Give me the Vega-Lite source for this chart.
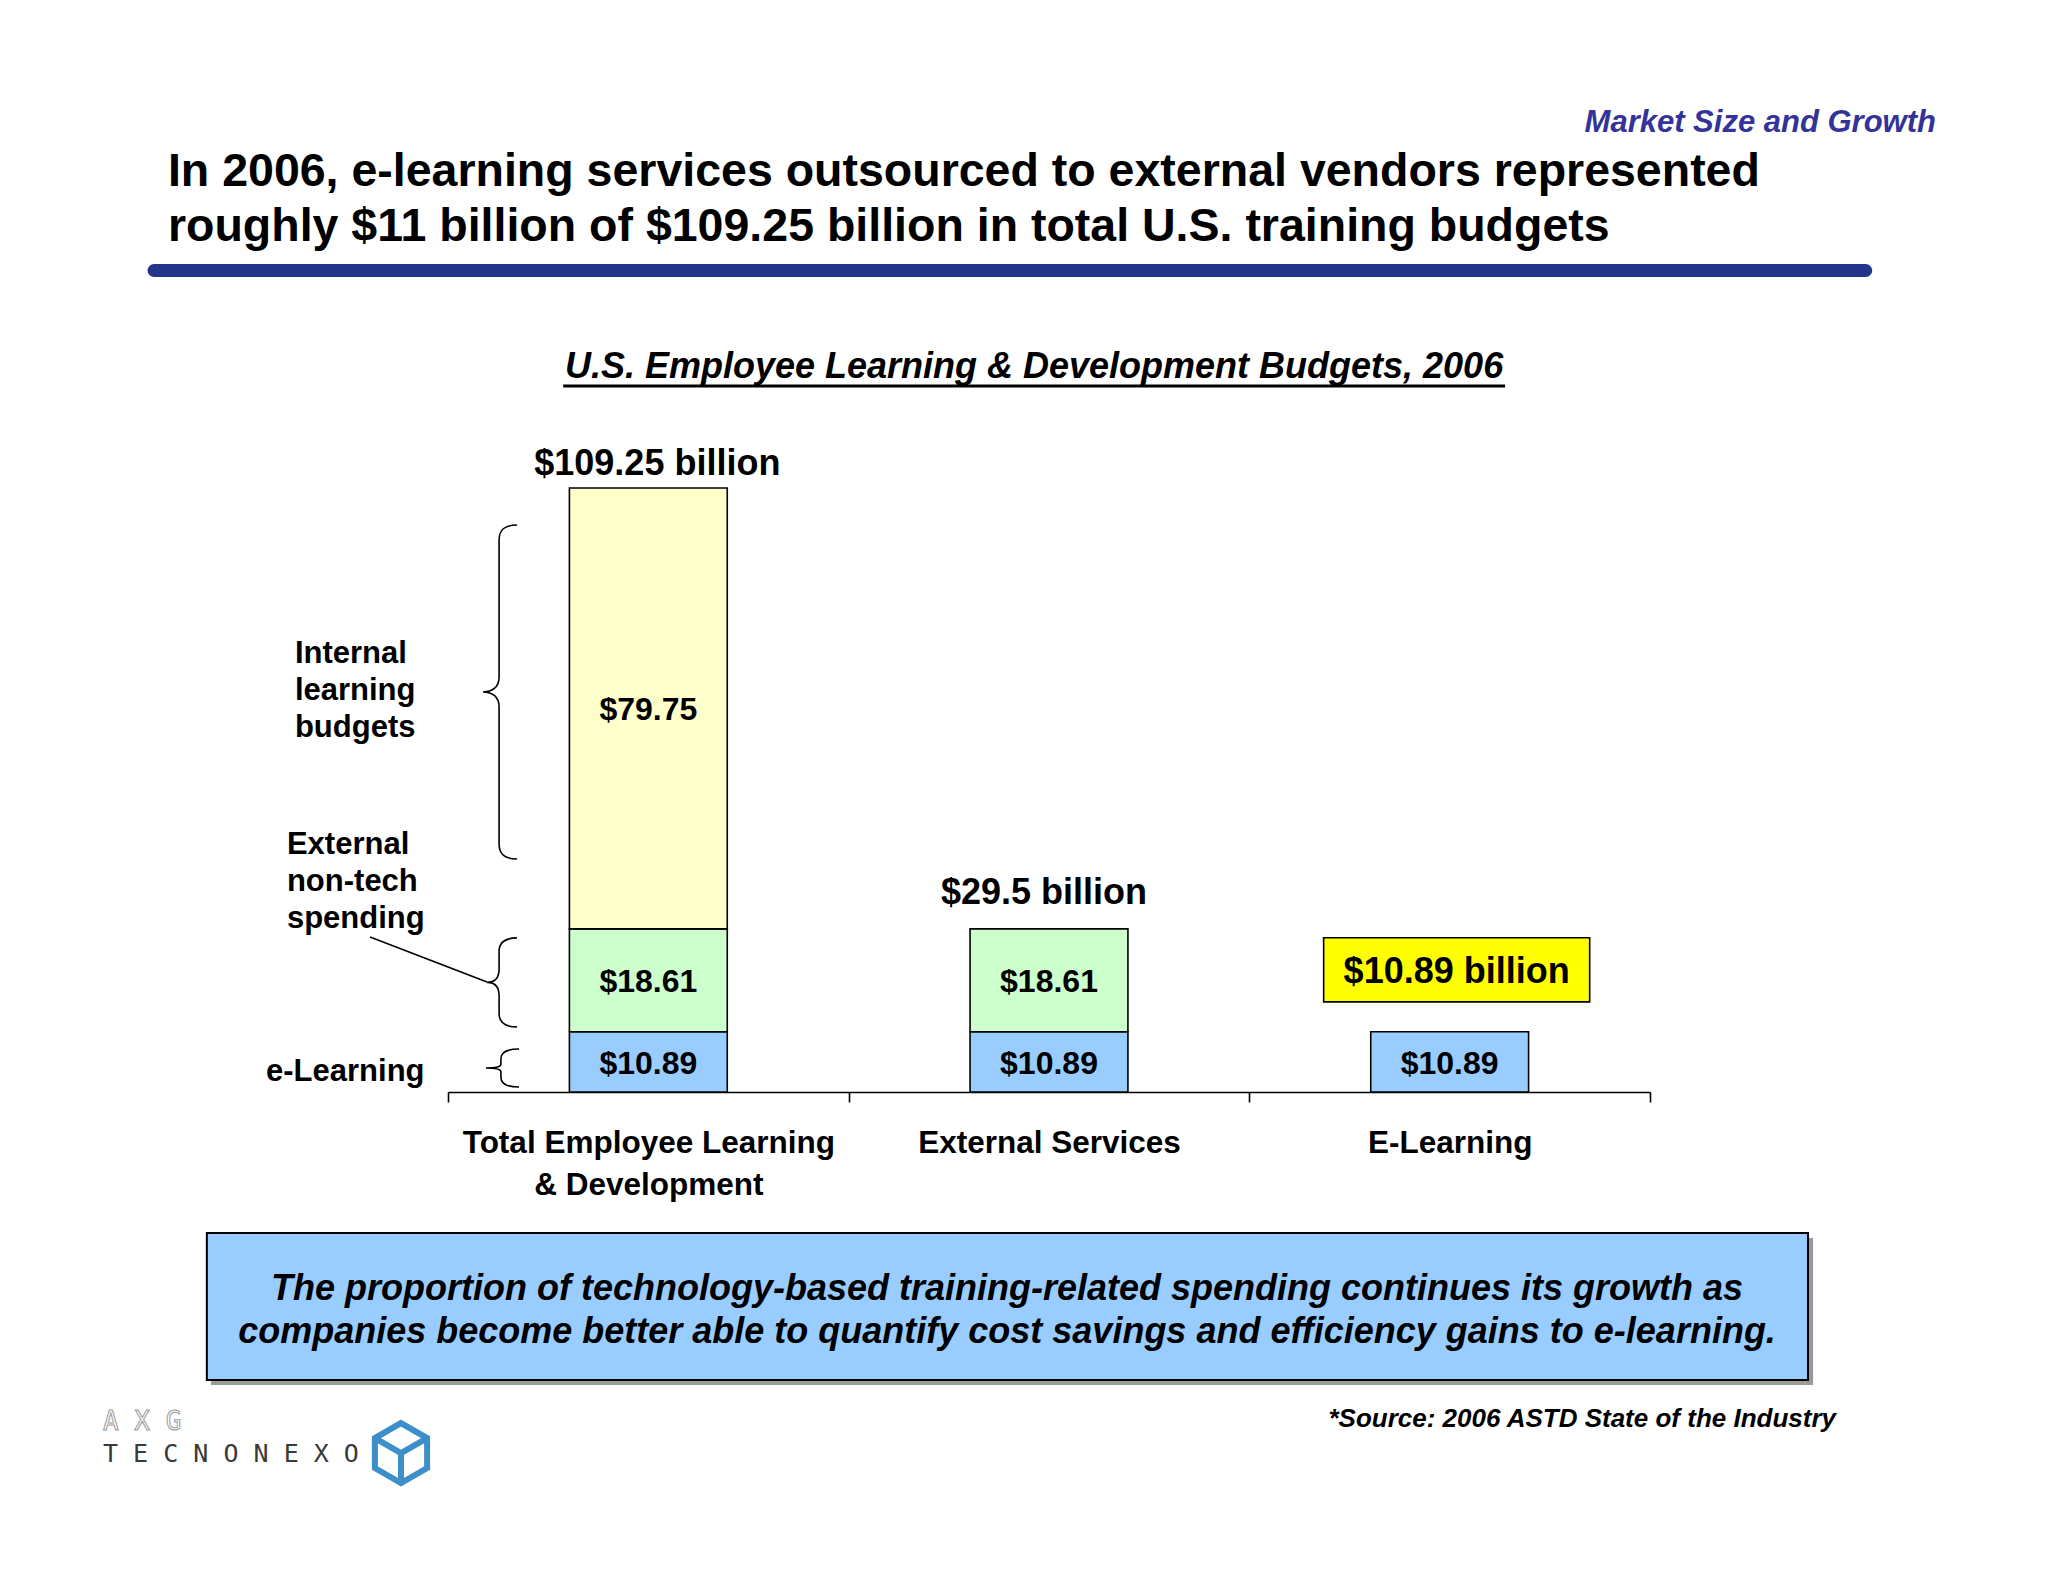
{
  "$schema": "https://vega.github.io/schema/vega-lite/v6.json",
  "width": 2048,
  "height": 1582,
  "autosize": {"type": "none"},
  "padding": 0,
  "background": "white",
  "config": {"view": {"stroke": null}, "font": "Liberation Sans", "text": {"font": "Liberation Sans"}},
  "datasets": {
    "bars": [
      {"cat": "Total Employee Learning & Development", "seg": "e-Learning", "lo": 0, "hi": 10.89, "label": "$10.89"},
      {"cat": "Total Employee Learning & Development", "seg": "External non-tech", "lo": 10.89, "hi": 29.5, "label": "$18.61"},
      {"cat": "Total Employee Learning & Development", "seg": "Internal", "lo": 29.5, "hi": 109.25, "label": "$79.75"},
      {"cat": "External Services", "seg": "e-Learning", "lo": 0, "hi": 10.89, "label": "$10.89"},
      {"cat": "External Services", "seg": "External non-tech", "lo": 10.89, "hi": 29.5, "label": "$18.61"},
      {"cat": "E-Learning", "seg": "e-Learning", "lo": 0, "hi": 10.89, "label": "$10.89"}
    ],
    "totals": [
      {"cat": "Total Employee Learning & Development", "total": 109.25, "label": "$109.25 billion"},
      {"cat": "External Services", "total": 29.5, "label": "$29.5 billion"}
    ],
    "box": [
      {"cat": "E-Learning", "lo": 16.3, "hi": 27.9, "label": "$10.89 billion"}
    ]
  },
  "layer": [
    {
      "layer": [
        {
          "data": {"name": "bars"},
          "mark": {"type": "bar", "width": {"band": 0.394}, "stroke": "black", "strokeWidth": 1.6},
          "encoding": {
            "x": {
              "field": "cat", "type": "nominal",
              "scale": {"domain": ["Total Employee Learning & Development", "External Services", "E-Learning"], "range": [448, 1650], "paddingInner": 0, "paddingOuter": 0},
              "axis": {
                "title": null, "offset": -490, "tickBand": "extent",
                "domainColor": "black", "domainWidth": 1.6, "tickColor": "black", "tickWidth": 1.6, "tickSize": 10,
                "labelAngle": 0, "labelFont": "Liberation Sans", "labelFontSize": 31.5, "labelFontWeight": "bold",
                "labelColor": "black", "labelPadding": 25, "labelLineHeight": 42, "labelBaseline": "top", "labelLimit": 0,
                "labelExpr": "datum.value == 'Total Employee Learning & Development' ? ['Total Employee Learning', '& Development'] : datum.label"
              }
            },
            "y": {"field": "lo", "type": "quantitative", "scale": {"domain": [-88.63, 197.52], "nice": false, "zero": false}, "axis": null},
            "y2": {"field": "hi"},
            "color": {"field": "seg", "type": "nominal", "scale": {"domain": ["e-Learning", "External non-tech", "Internal"], "range": ["#99CCFF", "#CCFFCC", "#FFFFCC"]}, "legend": null}
          }
        },
        {
          "data": {"name": "bars"},
          "transform": [{"fold": ["lo", "hi"], "as": ["k", "bound"]}],
          "mark": {"type": "text", "font": "Liberation Sans", "fontSize": 32, "fontWeight": "bold", "color": "black", "baseline": "middle", "align": "center", "dy": 2},
          "encoding": {
            "x": {"field": "cat", "type": "nominal"},
            "y": {"aggregate": "mean", "field": "bound", "type": "quantitative", "axis": null},
            "text": {"field": "label", "type": "nominal"}
          }
        },
        {
          "data": {"name": "totals"},
          "transform": [{"filter": "datum.total > 100"}],
          "mark": {"type": "text", "font": "Liberation Sans", "fontSize": 36, "fontWeight": "bold", "color": "black", "baseline": "alphabetic", "align": "center", "dy": -13, "dx": 9},
          "encoding": {
            "x": {"field": "cat", "type": "nominal"},
            "y": {"field": "total", "type": "quantitative", "axis": null},
            "text": {"field": "label", "type": "nominal"}
          }
        },
        {
          "data": {"name": "totals"},
          "transform": [{"filter": "datum.total < 100"}],
          "mark": {"type": "text", "font": "Liberation Sans", "fontSize": 36, "fontWeight": "bold", "color": "black", "baseline": "alphabetic", "align": "center", "dy": -25, "dx": -5},
          "encoding": {
            "x": {"field": "cat", "type": "nominal"},
            "y": {"field": "total", "type": "quantitative", "axis": null},
            "text": {"field": "label", "type": "nominal"}
          }
        },
        {
          "data": {"name": "box"},
          "mark": {"type": "bar", "width": {"band": 0.664}, "fill": "#FFFF00", "stroke": "black", "strokeWidth": 1.6, "xOffset": 7},
          "encoding": {
            "x": {"field": "cat", "type": "nominal"},
            "y": {"field": "lo", "type": "quantitative", "axis": null},
            "y2": {"field": "hi"}
          }
        },
        {
          "data": {"name": "box"},
          "transform": [{"fold": ["lo", "hi"], "as": ["k", "bound"]}],
          "mark": {"type": "text", "font": "Liberation Sans", "fontSize": 36, "fontWeight": "bold", "color": "black", "baseline": "middle", "align": "center", "dx": 7, "dy": 2},
          "encoding": {
            "x": {"field": "cat", "type": "nominal"},
            "y": {"aggregate": "mean", "field": "bound", "type": "quantitative", "axis": null},
            "text": {"field": "label", "type": "nominal"}
          }
        }
      ]
    },
    {
      "encoding": {
        "x": {"field": "sx", "type": "quantitative", "scale": {"domain": [0, 100], "nice": false, "zero": false}, "axis": null},
        "y": {"field": "sy", "type": "quantitative", "scale": {"domain": [0, 100], "nice": false, "zero": false, "reverse": true}, "axis": null}
      },
      "layer": [
        {
          "data": {"values": [{"sx": 94.53, "sy": 8.34, "t": "Market Size and Growth"}]},
          "mark": {"type": "text", "font": "Liberation Sans", "fontSize": 31, "fontWeight": "bold", "fontStyle": "italic", "color": "#333399", "align": "right", "baseline": "alphabetic"},
          "encoding": {"text": {"field": "t"}}
        },
        {
          "data": {"values": [
            {"sx": 8.2, "sy": 11.78, "t": "In 2006, e-learning services outsourced to external vendors represented"},
            {"sx": 8.2, "sy": 15.26, "t": "roughly $11 billion of $109.25 billion in total U.S. training budgets"}
          ]},
          "mark": {"type": "text", "font": "Liberation Sans", "fontSize": 46.5, "fontWeight": "bold", "color": "black", "align": "left", "baseline": "alphabetic"},
          "encoding": {"text": {"field": "t"}}
        },
        {
          "data": {"values": [{"sx": 7.52, "sx2": 91.1, "sy": 17.1}]},
          "mark": {"type": "rule", "color": "#22358A", "strokeWidth": 13, "strokeCap": "round"},
          "encoding": {"x2": {"field": "sx2"}}
        },
        {
          "data": {"values": [{"sx": 50.49, "sy": 23.9, "t": "U.S. Employee Learning & Development Budgets, 2006"}]},
          "mark": {"type": "text", "font": "Liberation Sans", "fontSize": 36, "fontWeight": "bold", "fontStyle": "italic", "color": "black", "align": "center", "baseline": "alphabetic"},
          "encoding": {"text": {"field": "t"}}
        },
        {
          "data": {"values": [{"sx": 27.5, "sx2": 73.49, "sy": 24.4}]},
          "mark": {"type": "rule", "color": "black", "strokeWidth": 3},
          "encoding": {"x2": {"field": "sx2"}}
        },
        {
          "data": {"values": [
            {"sx": 14.4, "sy": 41.35, "t": "Internal\nlearning\nbudgets"},
            {"sx": 14.01, "sy": 53.41, "t": "External\nnon-tech\nspending"},
            {"sx": 12.99, "sy": 67.75, "t": "e-Learning"}
          ]},
          "mark": {"type": "text", "font": "Liberation Sans", "fontSize": 31, "fontWeight": "bold", "color": "black", "align": "left", "baseline": "middle", "lineBreak": "\n", "lineHeight": 37},
          "encoding": {"text": {"field": "t"}}
        },
        {
          "data": {"values": [{"sx": 24.37, "sy": 43.74}]},
          "mark": {"type": "point", "filled": false, "stroke": "black", "strokeWidth": 1.6, "opacity": 1, "size": 111556,
            "shape": "M0.108,-1 C0.03,-1 0,-0.97 0,-0.91 L0,-0.09 C0,-0.03 -0.04,0 -0.096,0 C-0.04,0 0,0.03 0,0.09 L0,0.91 C0,0.97 0.03,1 0.108,1"}
        },
        {
          "data": {"values": [{"sx": 24.37, "sy": 62.1}]},
          "mark": {"type": "point", "filled": false, "stroke": "black", "strokeWidth": 1.6, "opacity": 1, "size": 7921,
            "shape": "M0.4,-1 C0.12,-1 0,-0.88 0,-0.7 L0,-0.3 C0,-0.1 -0.1,0 -0.27,0 C-0.1,0 0,0.1 0,0.3 L0,0.7 C0,0.88 0.12,1 0.4,1"}
        },
        {
          "data": {"values": [{"sx": 24.46, "sy": 67.51}]},
          "mark": {"type": "point", "filled": false, "stroke": "black", "strokeWidth": 1.6, "opacity": 1, "size": 1444,
            "shape": "M0.95,-1 C0.35,-1 0,-0.85 0,-0.5 L0,-0.2 C0,-0.05 -0.3,0 -0.79,0 C-0.3,0 0,0.05 0,0.2 L0,0.5 C0,0.85 0.35,1 0.95,1"}
        },
        {
          "data": {"values": [{"sx": 18.07, "sy": 59.23}, {"sx": 23.78, "sy": 62.07}]},
          "mark": {"type": "line", "color": "black", "strokeWidth": 1.6}
        },
        {
          "data": {"values": [{"sx": 10.3, "sx2": 88.53, "sy": 78.26, "sy2": 87.55}]},
          "mark": {"type": "rect", "fill": "#9a9a9a"},
          "encoding": {"x2": {"field": "sx2"}, "y2": {"field": "sy2"}}
        },
        {
          "data": {"values": [{"sx": 10.1, "sx2": 88.28, "sy": 77.94, "sy2": 87.23}]},
          "mark": {"type": "rect", "fill": "#99CCFF", "stroke": "black", "strokeWidth": 2},
          "encoding": {"x2": {"field": "sx2"}, "y2": {"field": "sy2"}}
        },
        {
          "data": {"values": [
            {"sx": 49.17, "sy": 82.17, "t": "The proportion of technology-based training-related spending continues its growth as"},
            {"sx": 49.17, "sy": 84.89, "t": "companies become better able to quantify cost savings and efficiency gains to e-learning."}
          ]},
          "mark": {"type": "text", "font": "Liberation Sans", "fontSize": 36, "fontWeight": "bold", "fontStyle": "italic", "color": "black", "align": "center", "baseline": "alphabetic"},
          "encoding": {"text": {"field": "t"}}
        },
        {
          "data": {"values": [{"sx": 89.65, "sy": 90.2, "t": "*Source: 2006 ASTD State of the Industry"}]},
          "mark": {"type": "text", "font": "Liberation Sans", "fontSize": 26, "fontWeight": "bold", "fontStyle": "italic", "color": "black", "align": "right", "baseline": "alphabetic"},
          "encoding": {"text": {"field": "t"}}
        },
        {
          "data": {"values": [{"sx": 5.03, "sy": 89.89, "t": "A  X  G"}]},
          "mark": {"type": "text", "font": "DejaVu Sans Mono", "fontSize": 26, "fill": "white", "stroke": "#9a9a9a", "strokeWidth": 1, "align": "left", "baseline": "middle"},
          "encoding": {"text": {"field": "t"}}
        },
        {
          "data": {"values": [{"sx": 5.03, "sy": 91.91, "t": "T E C N O N E X O"}]},
          "mark": {"type": "text", "font": "DejaVu Sans Mono", "fontSize": 25, "color": "#3a3a3a", "align": "left", "baseline": "middle"},
          "encoding": {"text": {"field": "t"}}
        },
        {
          "data": {"values": [{"sx": 19.58, "sy": 91.85}]},
          "mark": {"type": "point", "filled": false, "stroke": "#3d8fc9", "strokeWidth": 6, "opacity": 1, "size": 3600,
            "shape": "M0,-1 L0.87,-0.5 L0.87,0.5 L0,1 L-0.87,0.5 L-0.87,-0.5 Z M0,0 L0,1 M0,0 L0.87,-0.5 M0,0 L-0.87,-0.5"}
        }
      ]
    }
  ],
  "resolve": {"scale": {"x": "independent", "y": "independent"}, "axis": {"x": "independent", "y": "independent"}}
}
